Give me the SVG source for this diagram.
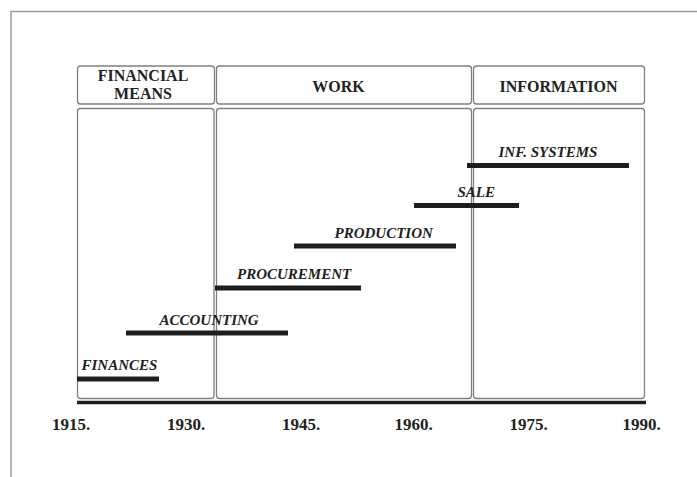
<svg xmlns="http://www.w3.org/2000/svg" width="697" height="477" viewBox="0 0 697 477">
<style>
.frame{fill:none;stroke:#9a9a9a;stroke-width:1.5}
.box{fill:#fff;stroke:#808080;stroke-width:1.3}
.hdr{font-family:"Liberation Serif",serif;font-weight:bold;font-size:16px;fill:#222;text-anchor:middle}
.lbl{font-family:"Liberation Serif",serif;font-weight:bold;font-style:italic;font-size:15px;fill:#222}
.yr{font-family:"Liberation Serif",serif;font-weight:bold;font-size:17px;fill:#222;text-anchor:middle}
.bar{stroke:#1e1e1e;stroke-width:5;fill:none}
.axis{stroke:#1e1e1e;stroke-width:3.5;fill:none}
</style>
<rect width="697" height="477" fill="#fff"/>
<path class="frame" d="M11,477 V11.5 H697"/>
<g id="col-financial">
<rect class="box" x="77.5" y="66" width="137" height="38" rx="3"/>
<text class="hdr" x="143" y="80.5">FINANCIAL</text>
<text class="hdr" x="143" y="98.5">MEANS</text>
<rect class="box" x="77.5" y="108.5" width="136.5" height="290" rx="3"/>
</g>
<g id="col-work">
<rect class="box" x="216.5" y="66" width="255" height="38" rx="3"/>
<text class="hdr" x="338.5" y="91.5">WORK</text>
<rect class="box" x="216.5" y="108.5" width="255" height="290" rx="3"/>
</g>
<g id="col-information">
<rect class="box" x="473.5" y="66" width="171" height="38" rx="3"/>
<text class="hdr" x="558.5" y="91.5">INFORMATION</text>
<rect class="box" x="473.5" y="108.5" width="171" height="290" rx="3"/>
</g>
<g id="connectors">
<line class="axis" x1="77" y1="402.5" x2="646" y2="402.5"/>
<line class="bar" x1="77" y1="379" x2="159" y2="379"/>
<line class="bar" x1="126" y1="333" x2="288" y2="333"/>
<line class="bar" x1="215" y1="288" x2="361" y2="288"/>
<line class="bar" x1="294" y1="246" x2="456" y2="246"/>
<line class="bar" x1="414" y1="205.5" x2="519" y2="205.5"/>
<line class="bar" x1="467" y1="165.5" x2="629" y2="165.5"/>
</g>
<g id="activities">
<text class="lbl" x="81.5" y="370">FINANCES</text>
<text class="lbl" x="159.5" y="325">ACCOUNTING</text>
<text class="lbl" x="237" y="279">PROCUREMENT</text>
<text class="lbl" x="334.5" y="237.5">PRODUCTION</text>
<text class="lbl" x="457.5" y="197">SALE</text>
<text class="lbl" x="498.5" y="157">INF. SYSTEMS</text>
</g>
<g id="years">
<text class="yr" x="71" y="430">1915.</text>
<text class="yr" x="186" y="430">1930.</text>
<text class="yr" x="301" y="430">1945.</text>
<text class="yr" x="413.5" y="430">1960.</text>
<text class="yr" x="528.5" y="430">1975.</text>
<text class="yr" x="641.5" y="430">1990.</text>
</g>
</svg>
